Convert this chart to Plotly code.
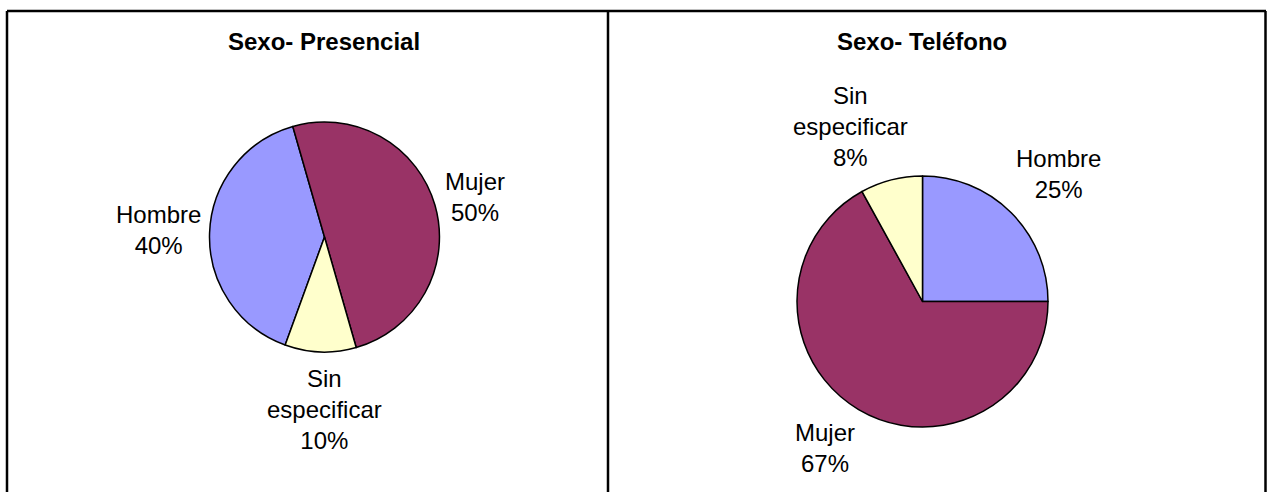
import plotly.graph_objects as go

categories = ["Hombre", "Mujer", "Sin especificar"]
presencial_values = [40, 50, 10]
telefono_values = [25, 67, 8]
colors = ["#9999FF", "#993366", "#FFFFCC"]
titles = ["Sexo- Presencial", "Sexo- Teléfono"]

W, H = 1271, 492

def px_x(x):
    return x / W

def px_y(y):
    return 1 - y / H

fig = go.Figure()

fig.add_trace(go.Pie(
    labels=categories, values=presencial_values, sort=False, direction="clockwise",
    rotation=200, textinfo="none", hoverinfo="label+percent",
    marker=dict(colors=colors, line=dict(color="black", width=1.5)),
    domain=dict(x=[px_x(209), px_x(440)], y=[px_y(352), px_y(122)]),
    showlegend=False,
))
fig.add_trace(go.Pie(
    labels=categories, values=telefono_values, sort=False, direction="clockwise",
    rotation=0, textinfo="none", hoverinfo="label+percent",
    marker=dict(colors=colors, line=dict(color="black", width=1.5)),
    domain=dict(x=[px_x(797), px_x(1048)], y=[px_y(427), px_y(176)]),
    showlegend=False,
))

label_font = dict(family="Liberation Sans, Arial, sans-serif", size=24, color="black")

def label_text(cat, val, total):
    pct = round(100 * val / total)
    return f"{cat.replace(' ', '<br>')}<br>{pct}%"

# label block centers (pixels)
left_pos = {"Hombre": (158, 230), "Mujer": (475, 197), "Sin especificar": (324, 409)}
right_pos = {"Hombre": (1058, 174), "Mujer": (825, 448), "Sin especificar": (850, 127)}

annotations = []
for vals, pos in ((presencial_values, left_pos), (telefono_values, right_pos)):
    tot = sum(vals)
    for cat, v in zip(categories, vals):
        x, y = pos[cat]
        annotations.append(dict(
            x=px_x(x), y=px_y(y), xref="paper", yref="paper",
            xanchor="center", yanchor="middle", showarrow=False,
            text=label_text(cat, v, tot), font=label_font, align="center",
        ))

for t, cx in zip(titles, (324, 922)):
    annotations.append(dict(
        x=px_x(cx), y=px_y(42), xref="paper", yref="paper",
        xanchor="center", yanchor="middle", showarrow=False,
        text=f"<b>{t}</b>",
        font=dict(family="Liberation Sans, Arial, sans-serif", size=24, color="black"),
    ))

line = dict(color="black", width=2.5)
shapes = [
    dict(type="line", xref="paper", yref="paper", x0=px_x(7), x1=px_x(1266), y0=px_y(11), y1=px_y(11), line=line),
    dict(type="line", xref="paper", yref="paper", x0=px_x(7), x1=px_x(7), y0=px_y(11), y1=px_y(500), line=line),
    dict(type="line", xref="paper", yref="paper", x0=px_x(608), x1=px_x(608), y0=px_y(11), y1=px_y(500), line=line),
    dict(type="line", xref="paper", yref="paper", x0=px_x(1265.5), x1=px_x(1265.5), y0=px_y(11), y1=px_y(500), line=line),
]

fig.update_layout(
    width=W, height=H,
    margin=dict(l=0, r=0, t=0, b=0),
    paper_bgcolor="white", plot_bgcolor="white",
    annotations=annotations, shapes=shapes,
)

fig.write_html(
    "out.html",
    config={"displayModeBar": False},
    post_script="document.body.style.margin='0';document.body.style.overflow='hidden';",
)
